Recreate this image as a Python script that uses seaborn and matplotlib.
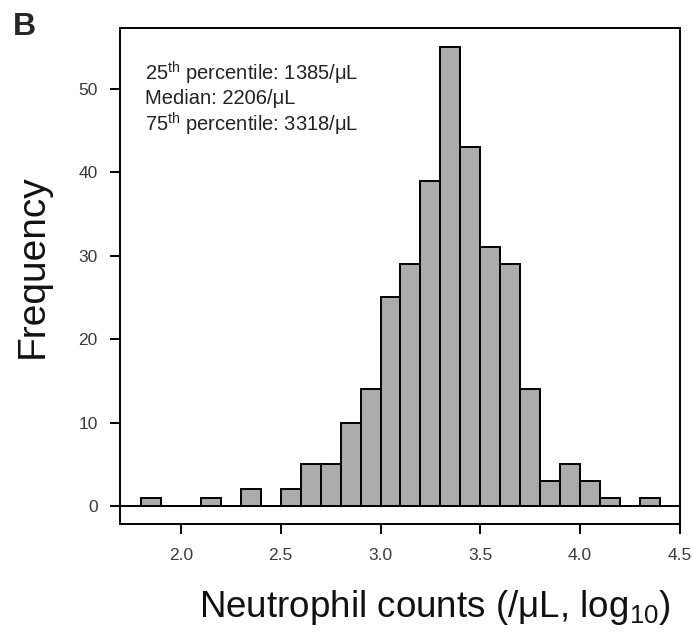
import numpy as np
import pandas as pd
import matplotlib
matplotlib.use("Agg")
import matplotlib.pyplot as plt
import seaborn as sns

# Data
bin_edges = [1.8, 1.9, 2.0, 2.1, 2.2, 2.3, 2.4, 2.5, 2.6, 2.7, 2.8, 2.9, 3.0,
             3.1, 3.2, 3.3, 3.4, 3.5, 3.6, 3.7, 3.8, 3.9, 4.0, 4.1, 4.2, 4.3, 4.4]
counts = [1, 0, 0, 1, 0, 2, 0, 2, 5, 5, 10, 14, 25, 29, 39, 55, 43, 31, 29, 14,
          3, 5, 3, 1, 0, 1]
x_ticks = [2.0, 2.5, 3.0, 3.5, 4.0, 4.5]
y_ticks = [0, 10, 20, 30, 40, 50]

centers = [(bin_edges[i] + bin_edges[i + 1]) / 2 for i in range(len(counts))]
df = pd.DataFrame({"x": centers, "n": counts})

sns.set_style("white")
plt.rcParams["font.family"] = ["Liberation Sans", "DejaVu Sans"]

fig = plt.figure(figsize=(6.93, 6.35), dpi=100)
ax = fig.add_axes([120 / 693, 1 - 524 / 635, (680 - 120) / 693, (524 - 28) / 635])

sns.histplot(data=df, x="x", weights="n", bins=bin_edges, ax=ax,
             color="#ababab", alpha=1.0, edgecolor="black", linewidth=1.4)
ax.axhline(0, color="black", lw=1.4, zorder=3)

ax.set_xlim(1.695, 4.5)
ax.set_ylim(-2.15, 57.3)
ax.set_xticks(x_ticks)
ax.set_xticklabels([f"{t:.1f}" for t in x_ticks])
ax.set_yticks(y_ticks)
ax.set_yticklabels([str(t) for t in y_ticks])
ax.tick_params(axis="both", which="major", bottom=True, left=True,
               direction="out", length=7, width=1.4,
               labelsize=12.5, color="black", labelcolor="#3a3a3a")
ax.tick_params(axis="x", pad=10)
ax.tick_params(axis="y", pad=9)
for s in ax.spines.values():
    s.set_visible(True)
    s.set_color("black")
    s.set_linewidth(1.4)

ax.set_xlabel("Neutrophil counts (/μL, log$_{\\mathregular{10}}$)", fontsize=26.5, color="#111111")
ax.xaxis.set_label_coords(0.5625, -0.169)
ax.xaxis.label.set_va("center")
ax.set_ylabel("Frequency", fontsize=28, color="#111111")
ax.yaxis.set_label_coords(-0.155, 0.52)
ax.yaxis.label.set_va("center")

ax.text(0.045, 0.935, "25$^{\\mathregular{th}}$ percentile: 1385/μL\nMedian: 2206/μL\n75$^{\\mathregular{th}}$ percentile: 3318/μL",
        transform=ax.transAxes, fontsize=14.5, va="top", ha="left",
        color="#222222", linespacing=1.12)

fig.text(24 / 693, 1 - 27 / 635, "B", fontsize=23, fontweight="bold",
         ha="center", va="center")

fig.savefig("out.png", dpi=100)
